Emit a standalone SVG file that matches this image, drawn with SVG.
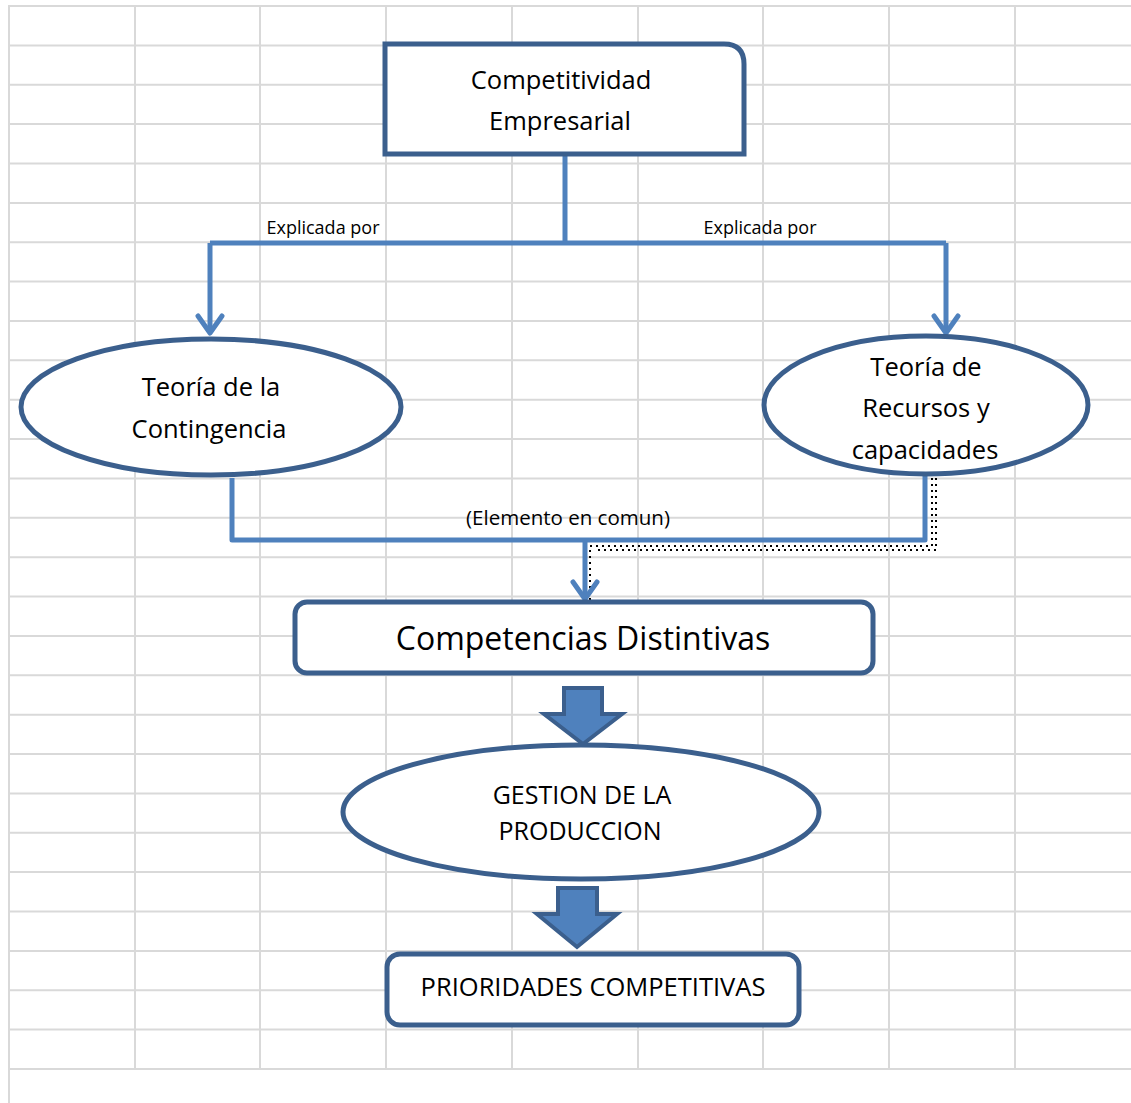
<svg xmlns="http://www.w3.org/2000/svg" width="1131" height="1103" viewBox="0 0 1131 1103">
<style>
.grid line{stroke:#d9d9d9;stroke-width:2}
.node{fill:#fff;stroke:#3b5f8d;stroke-width:5}
.conn{fill:none;stroke:#4f81bd;stroke-width:5;stroke-linejoin:round}
.head{fill:none;stroke:#4f81bd;stroke-width:5;stroke-linecap:round;stroke-linejoin:round}
.dots{fill:none;stroke:#000;stroke-width:2;stroke-dasharray:2 4}
.block{fill:#4f81bd;stroke:#3b5f8d;stroke-width:4}
text{font-family:"Open Sans","Liberation Sans",sans-serif;fill:#000;text-anchor:middle}
.t24{font-size:25.5px}
.t22{font-size:25px}
.lbl{font-size:18px}
</style>
<rect width="1131" height="1103" fill="#fff"/>
<g class="grid" id="grid">
<line x1="9" y1="5" x2="9" y2="1103"/>
<line x1="135" y1="5" x2="135" y2="1069"/>
<line x1="260" y1="5" x2="260" y2="1069"/>
<line x1="386" y1="5" x2="386" y2="1069"/>
<line x1="512" y1="5" x2="512" y2="1069"/>
<line x1="638" y1="5" x2="638" y2="1069"/>
<line x1="763" y1="5" x2="763" y2="1069"/>
<line x1="889" y1="5" x2="889" y2="1069"/>
<line x1="1015" y1="5" x2="1015" y2="1069"/>
<line x1="9" y1="6" x2="1131" y2="6"/>
<line x1="9" y1="45.4" x2="1131" y2="45.4"/>
<line x1="9" y1="84.7" x2="1131" y2="84.7"/>
<line x1="9" y1="124.1" x2="1131" y2="124.1"/>
<line x1="9" y1="163.5" x2="1131" y2="163.5"/>
<line x1="9" y1="202.9" x2="1131" y2="202.9"/>
<line x1="9" y1="242.2" x2="1131" y2="242.2"/>
<line x1="9" y1="281.6" x2="1131" y2="281.6"/>
<line x1="9" y1="321" x2="1131" y2="321"/>
<line x1="9" y1="360.3" x2="1131" y2="360.3"/>
<line x1="9" y1="399.7" x2="1131" y2="399.7"/>
<line x1="9" y1="439.1" x2="1131" y2="439.1"/>
<line x1="9" y1="478.4" x2="1131" y2="478.4"/>
<line x1="9" y1="517.8" x2="1131" y2="517.8"/>
<line x1="9" y1="557.2" x2="1131" y2="557.2"/>
<line x1="9" y1="596.6" x2="1131" y2="596.6"/>
<line x1="9" y1="635.9" x2="1131" y2="635.9"/>
<line x1="9" y1="675.3" x2="1131" y2="675.3"/>
<line x1="9" y1="714.7" x2="1131" y2="714.7"/>
<line x1="9" y1="754" x2="1131" y2="754"/>
<line x1="9" y1="793.4" x2="1131" y2="793.4"/>
<line x1="9" y1="832.8" x2="1131" y2="832.8"/>
<line x1="9" y1="872.1" x2="1131" y2="872.1"/>
<line x1="9" y1="911.5" x2="1131" y2="911.5"/>
<line x1="9" y1="950.9" x2="1131" y2="950.9"/>
<line x1="9" y1="990.2" x2="1131" y2="990.2"/>
<line x1="9" y1="1029.6" x2="1131" y2="1029.6"/>
<line x1="9" y1="1069" x2="1131" y2="1069"/>
</g>
<g id="connectors">
<path class="conn" d="M565,154 V243 M210,243 H946 M210,243 V332 M946,243 V332"/>
<path class="head" d="M198,316 L210,333 L222,316 M934,316 L946,333 L958,316"/>
<path class="dots" d="M932,478 V546 H590 V600"/>
<path class="dots" d="M936,478 V550 H594"/>
<path class="conn" d="M232,478 V540 H585 M925,476 V540 H585 V598"/>
<path class="head" d="M573,582 L585,599 L597,582"/>
<text class="lbl" x="323" y="234">Explicada por</text>
<text class="lbl" x="760" y="234">Explicada por</text>
<text x="568" y="525" style="font-size:20.5px">(Elemento en comun)</text>
<path class="block" d="M564,688 H602 V714 H622 L583,744 L544,714 H564 Z"/>
<path class="block" d="M558,888 H597 V914 H617 L577,947 L537,914 H558 Z"/>
</g>
<g id="n-competitividad">
<path class="node" d="M385,44 H724 Q744,44 744,64 V154 H385 Z"/>
<text class="t24" x="561" y="89">Competitividad</text>
<text class="t24" x="560" y="130">Empresarial</text>
</g>
<g id="n-contingencia">
<ellipse class="node" cx="211" cy="407" rx="190" ry="68"/>
<text class="t24" x="211" y="396">Teoría de la</text>
<text class="t24" x="209" y="438">Contingencia</text>
</g>
<g id="n-recursos">
<ellipse class="node" cx="926" cy="405" rx="162" ry="69"/>
<text class="t24" x="926" y="376">Teoría de</text>
<text class="t24" x="926" y="417">Recursos y</text>
<text class="t24" x="925" y="459">capacidades</text>
</g>
<g id="n-competencias">
<rect class="node" x="295" y="602" width="578" height="71" rx="12"/>
<text x="583" y="650" style="font-size:32px">Competencias Distintivas</text>
</g>
<g id="n-gestion">
<ellipse class="node" cx="581" cy="812" rx="238" ry="67"/>
<text class="t22" x="582" y="804">GESTION DE LA</text>
<text class="t22" x="580" y="840">PRODUCCION</text>
</g>
<g id="n-prioridades">
<rect class="node" x="387" y="954" width="412" height="71" rx="13"/>
<text x="593" y="996" style="font-size:25.5px">PRIORIDADES COMPETITIVAS</text>
</g>
</svg>
